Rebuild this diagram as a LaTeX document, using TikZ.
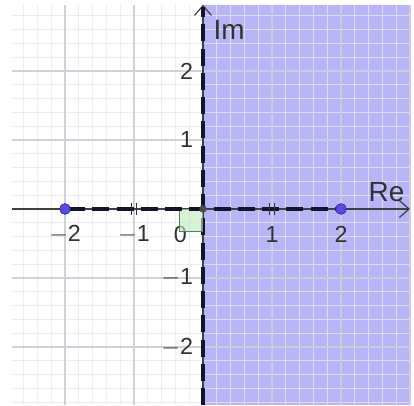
\documentclass[tikz,border=0pt]{standalone}
\usepackage{fontspec}
\setmainfont{Liberation Sans}
\usetikzlibrary{arrows.meta}
\definecolor{regionfill}{RGB}{184,180,248}
\definecolor{majorgrid}{RGB}{205,205,215}
\definecolor{minorgrid}{RGB}{232,232,238}
\definecolor{angfill}{RGB}{190,235,190}
\definecolor{anggreen}{RGB}{70,140,70}
\definecolor{ptblue}{RGB}{85,75,235}
\definecolor{dashcol}{RGB}{20,20,45}
\definecolor{labcol}{RGB}{50,50,50}
\begin{document}
\begin{tikzpicture}[x=1cm,y=1cm,
  lab/.style={font=\fontsize{9.6}{11}\selectfont, text=labcol, inner sep=1pt},
  axlab/.style={font=\fontsize{11.5}{13}\selectfont, text=labcol, inner sep=1pt},
  axisline/.style={line width=0.5pt, black!75, -{Straight Barb[length=4pt,width=7pt]}},
  bound/.style={dashcol, line width=1.3pt, dash pattern=on 7pt off 3pt},
  pt/.style={circle, fill=ptblue, draw=ptblue!70!black, line width=0.3pt, inner sep=0pt, minimum size=4.3pt},
  opt/.style={circle, fill=black!70, inner sep=0pt, minimum size=3pt},
  tickmark/.style={line width=0.7pt, black!80}]
\useasboundingbox (-2.942,-2.841) rectangle (3.058,3.029);
\fill[white] (-2.942,-2.841) rectangle (3.058,3.029);
% half-plane
\fill[regionfill] (0,-2.841) rectangle (3.0,2.96);
% grids
\draw[minorgrid, opacity=0.8, line width=0.3pt, step=0.2] (-2.77,-2.841) grid (3.0,2.96);
\draw[majorgrid, opacity=0.9, line width=0.5pt, step=1] (-2.77,-2.841) grid (3.0,2.96);
% axes
\coordinate (xl) at (-2.77,0);
\coordinate (xr) at (3.0,0);
\coordinate (yb) at (0,-2.841);
\coordinate (yt) at (0,2.96);
\draw[axisline] (xl) -- (xr);
\draw[axisline] (yb) -- (yt);
% boundary line
\draw[bound] (yb) -- (0,2.93);
% right angle marker
\node[lab] (l0) at (-0.33,-0.37) {0};
\fill[angfill, opacity=0.6] (-0.34,0) rectangle (0,-0.33);
\draw[anggreen, line width=0.6pt] (-0.34,0) -- (-0.34,-0.33) -- (0,-0.33);
% points
\node[pt] (m2) at (-2,0) {};
\node[pt] (p2) at (2,0) {};
\node[opt] (o) at (0,0) {};
\draw[bound, dashcol, shorten <=-1pt, shorten >=-1pt] (m2) -- (p2);
\node[pt] at (-2,0) {};
\node[pt] at (2,0) {};
\node[opt] at (0,0) {};
% equal-length tick marks
\foreach \s in {-1,1}{
  \draw[tickmark] (\s-0.035,-0.09) -- (\s-0.035,0.09);
  \draw[tickmark] (\s+0.035,-0.09) -- (\s+0.035,0.09);
}
% labels
\node[lab] (lm2) at (-2,-0.37) {$-$2};
\node[lab] (lm1) at (-1,-0.37) {$-$1};
\node[lab] (l1) at (1,-0.37) {1};
\node[lab] (l2) at (2,-0.37) {2};
\node[lab, anchor=east] (ly2) at (-0.1,2) {2};
\node[lab, anchor=east] (ly1) at (-0.1,1) {1};
\node[lab, anchor=east] (lym1) at (-0.1,-1) {$-$1};
\node[lab, anchor=east] (lym2) at (-0.1,-2) {$-$2};
\node[axlab] (im) at (0.38,2.6) {Im};
\node[axlab] (re) at (2.66,0.25) {Re};
\end{tikzpicture}
\end{document}
